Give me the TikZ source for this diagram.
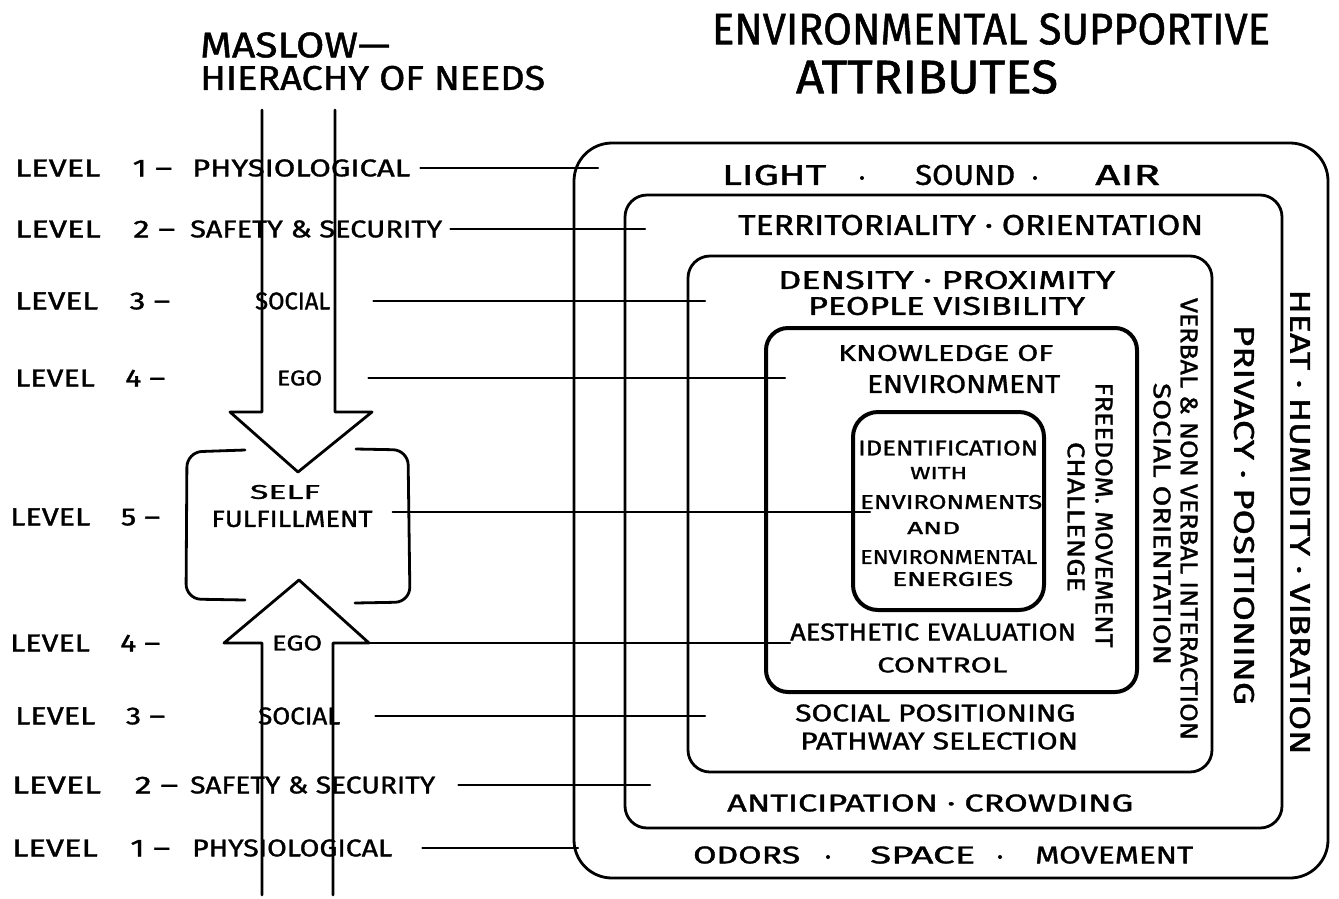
\documentclass[tikz,border=0pt]{standalone}
\usepackage{fontspec}
\setmainfont{Fira Sans}[FakeBold=1.2]
\usepackage{graphicx}
\newcommand{\T}[3]{\resizebox{#1pt}{#2pt}{#3}}
\begin{document}
\begin{tikzpicture}[x=1pt,y=-1pt,line cap=round,line join=round,
  lbl/.style={inner sep=0,anchor=west},
  ctr/.style={inner sep=0},
  conn/.style={line width=2.2pt},
  boxline/.style={line width=2.8pt},
  heavy/.style={line width=4pt},
  dotmark/.style={circle,fill,inner sep=0,minimum size=4pt}]
\useasboundingbox (0,0) rectangle (1339,898);

% titles
\node[lbl] (mas) at (200,45) {\T{190}{25}{MASLOW—}};
\node[lbl] (hier) at (200,78) {\T{345}{24}{HIERACHY OF NEEDS}};
\node[ctr] (env) at (991,29) {\T{558}{31}{ENVIRONMENTAL SUPPORTIVE}};
\node[ctr] (attr) at (927,77) {\T{262}{33}{ATTRIBUTES}};

% arrows
\draw[boxline] (262,110) -- (262,412) -- (230,412) -- (298,472) -- (372,412) -- (335,412) -- (335,110);
\draw[boxline] (262,895) -- (262,643) -- (224,643) -- (299,580) -- (369,643) -- (333,643) -- (333,895);
% self fulfillment brackets
\draw[boxline,rounded corners=15] (245,450) -- (187,452) -- (186,599) -- (245,600);
\draw[boxline,rounded corners=15] (356,449) -- (408,450) -- (410,602) -- (355,603);
\node[ctr] (self) at (285,492) {\T{70}{14}{SELF}};
\node[ctr] (ful) at (292,519) {\T{161}{16}{FULFILLMENT}};

% boxes
\draw[boxline,rounded corners=38] (574,143) rectangle (1328,878);
\draw[boxline,rounded corners=22] (625,195) rectangle (1282,828);
\draw[boxline,rounded corners=22] (688,256) rectangle (1212,772);
\draw[heavy,rounded corners=22] (766,328) rectangle (1137,692);
\draw[heavy,rounded corners=25] (853,412) rectangle (1044,610);

% level labels
\node[lbl] (l1t) at (15,168) {\T{157}{17}{LEVEL\enspace\enspace 1 –}};
\node[lbl] (w1t) at (192,168) {\T{218}{17}{PHYSIOLOGICAL}};
\node[lbl] (l2t) at (15,229) {\T{160}{17}{LEVEL\enspace\enspace 2 –}};
\node[lbl] (w2t) at (190,229) {\T{252}{17}{SAFETY \& SECURITY}};
\node[lbl] (l3t) at (15,301) {\T{155}{17}{LEVEL\enspace\enspace 3 –}};
\node[lbl] (w3t) at (255,301) {\T{75}{17}{SOCIAL}};
\node[lbl] (l4t) at (15,378) {\T{150}{17}{LEVEL\enspace\enspace 4 –}};
\node[lbl] (w4t) at (277,378) {\T{45}{15}{EGO}};
\node[lbl] (l5) at (10,517) {\T{150}{17}{LEVEL\enspace\enspace 5 –}};
\node[lbl] (l4b) at (10,643) {\T{150}{17}{LEVEL\enspace\enspace 4 –}};
\node[lbl] (w4b) at (272,643) {\T{50}{15}{EGO}};
\node[lbl] (l3b) at (15,716) {\T{150}{17}{LEVEL\enspace\enspace 3 –}};
\node[lbl] (w3b) at (258,716) {\T{82}{17}{SOCIAL}};
\node[lbl] (l2b) at (12,785) {\T{166}{17}{LEVEL\enspace\enspace 2 –}};
\node[lbl] (w2b) at (190,785) {\T{245}{17}{SAFETY \& SECURITY}};
\node[lbl] (l1b) at (12,848) {\T{158}{17}{LEVEL\enspace\enspace 1 –}};
\node[lbl] (w1b) at (192,848) {\T{200}{17}{PHYSIOLOGICAL}};

% connector ends
\coordinate (e1t) at (598,168);
\coordinate (e2t) at (645,229);
\coordinate (e3t) at (705,301);
\coordinate (e4t) at (785,378);
\coordinate (e5) at (870,512);
\coordinate (e4b) at (790,643);
\coordinate (e3b) at (705,716);
\coordinate (e2b) at (650,785);
\coordinate (e1b) at (578,848);

\draw[conn] ([xshift=10]w1t.east) -- (e1t);
\draw[conn] ([xshift=8]w2t.east) -- (e2t);
\draw[conn] ([xshift=43]w3t.east) -- (e3t);
\draw[conn] ([xshift=46]w4t.east) -- (e4t);
\draw[conn] ([xshift=20]ful.east |- e5) -- (e5);
\draw[conn] ([xshift=30]w4b.east) -- (e4b);
\draw[conn] ([xshift=35]w3b.east) -- (e3b);
\draw[conn] ([xshift=23]w2b.east) -- (e2b);
\draw[conn] ([xshift=30]w1b.east) -- (e1b);

% box 1 texts
\node[lbl] (light) at (722,175) {\T{104}{20}{LIGHT}};
\node[dotmark] (d1) at (862,178) {};
\node[lbl] (sound) at (915,175) {\T{100}{20}{SOUND}};
\node[dotmark] (d2) at (1035,178) {};
\node[lbl] (air) at (1095,175) {\T{65}{20}{AIR}};
\node[ctr,rotate=-90] (heat) at (1300,522) {\T{465}{20}{HEAT · HUMIDITY · VIBRATION}};
\node[lbl] (odors) at (693,855) {\T{107}{17}{ODORS}};
\node[dotmark] (d3) at (828,857) {};
\node[lbl] (space) at (870,855) {\T{105}{17}{SPACE}};
\node[dotmark] (d4) at (1000,857) {};
\node[lbl] (move) at (1035,855) {\T{158}{17}{MOVEMENT}};

% box 2 texts
\node[lbl] (terr) at (738,225) {\T{465}{20}{TERRITORIALITY · ORIENTATION}};
\node[ctr,rotate=-90] (priv) at (1244,515) {\T{380}{20}{PRIVACY · POSITIONING}};
\node[lbl] (antic) at (727,803) {\T{406}{17}{ANTICIPATION · CROWDING}};

% box 3 texts
\node[lbl] (dens) at (778,280) {\T{337}{18}{DENSITY · PROXIMITY}};
\node[lbl] (peop) at (808,306) {\T{277}{18}{PEOPLE VISIBILITY}};
\node[ctr,rotate=-90] (verb) at (1189,519) {\T{442}{17}{VERBAL \& NON VERBAL INTERACTION}};
\node[ctr,rotate=-90] (sori) at (1162,524) {\T{282}{17}{SOCIAL ORIENTATION}};
\node[lbl] (spos) at (795,713) {\T{280}{17}{SOCIAL POSITIONING}};
\node[lbl] (path) at (800,741) {\T{278}{17}{PATHWAY SELECTION}};

% box 4 texts
\node[lbl] (know) at (838,353) {\T{215}{16}{KNOWLEDGE OF}};
\node[lbl] (envt) at (867,384) {\T{193}{18}{ENVIRONMENT}};
\node[ctr,rotate=-90] (free) at (1104,515) {\T{265}{17}{FREEDOM. MOVEMENT}};
\node[ctr,rotate=-90] (chal) at (1076,517) {\T{150}{17}{CHALLENGE}};
\node[lbl] (aest) at (790,632) {\T{286}{17}{AESTHETIC EVALUATION}};
\node[lbl] (cont) at (877,665) {\T{130}{15}{CONTROL}};

% box 5 texts
\node[lbl] (ident) at (858,448) {\T{180}{15}{IDENTIFICATION}};
\node[lbl] (with) at (910,473) {\T{57}{12}{WITH}};
\node[lbl] (envs) at (860,502) {\T{182}{14}{ENVIRONMENTS}};
\node[lbl] (and) at (907,528) {\T{53}{12}{AND}};
\node[lbl] (envl) at (860,557) {\T{177}{14}{ENVIRONMENTAL}};
\node[lbl] (ener) at (892,579) {\T{121}{14}{ENERGIES}};
\end{tikzpicture}
\end{document}
